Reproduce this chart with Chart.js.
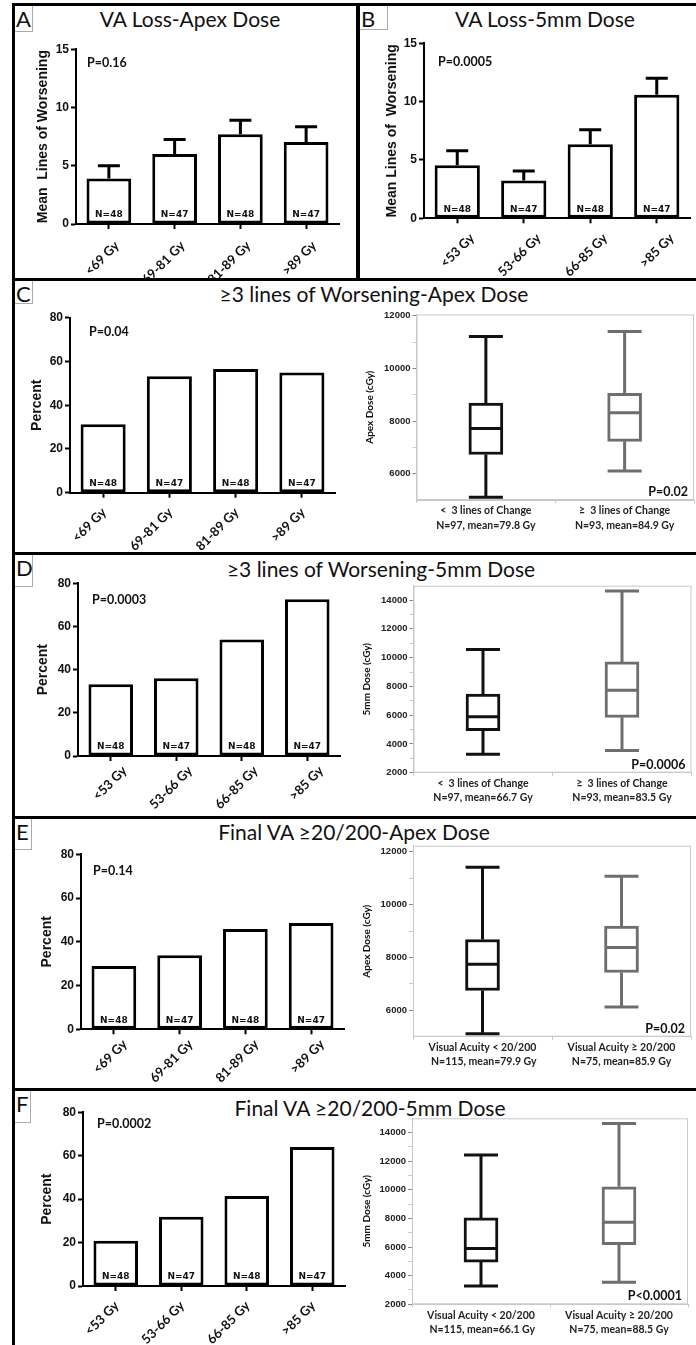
<!DOCTYPE html>
<html>
<head>
<meta charset="utf-8">
<script src="https://cdn.jsdelivr.net/npm/chart.js@4.4.1/dist/chart.umd.min.js"></script>
<style>
  body { margin: 0; background: #fff; }
  #page { position: relative; width: 696px; height: 1345px; overflow: hidden; font-family: Lato, sans-serif; color: #111; }
  .line { position: absolute; background: #000; }
  .title { position: absolute; transform: translate(-50%, -50%); white-space: nowrap; font-size: 21px; line-height: 1; }
  .tag { position: absolute; box-sizing: border-box; border-right: 1px solid #aaa; border-bottom: 1px solid #aaa; font-size: 22px; line-height: 1; padding: 2px 0 0 1px; }
</style>
</head>
<body>
<div id="page"></div>
<script>
// dose groups
const apexGroups = ['<69 Gy', '69-81 Gy', '81-89 Gy', '>89 Gy'];
const mm5Groups = ['<53 Gy', '53-66 Gy', '66-85 Gy', '>85 Gy'];
const groupN = [48, 47, 48, 47];

// mean lines of worsening, and top of the error bar
const lossApexMean = [3.9, 6.0, 7.7, 7.05];
const lossApexErr = [5.0, 7.25, 8.9, 8.35];
const loss5mmMean = [4.55, 3.25, 6.35, 10.6];
const loss5mmErr = [5.8, 4.05, 7.6, 12.0];

// percent of patients
const worseApexPct = [31.3, 53.2, 56.5, 55.0];
const worse5mmPct = [33.2, 36.0, 54.0, 72.6];
const finalApexPct = [28.9, 33.8, 45.8, 48.6];
const final5mmPct = [20.8, 31.9, 41.5, 64.0];

// box plots: min, q1, median, q3, max (cGy)
const worseApexBox = [[5100, 6730, 7720, 8680, 11210], [6100, 7230, 8320, 9050, 11400]];
const worse5mmBox = [[3280, 4920, 5890, 7470, 10570], [3550, 5850, 7740, 9700, 14640]];
const finalApexBox = [[5110, 6750, 7740, 8680, 11410], [6120, 7430, 8380, 9190, 11070]];
const final5mmBox = [[3280, 4950, 5900, 8040, 12430], [3540, 6160, 7730, 10210, 14630]];

// dose axis ticks (labels on the even thousands)
const apexDoseTicks = [6000, 7000, 8000, 9000, 10000, 11000, 12000];
const mm5DoseTicks = [2000, 3000, 4000, 5000, 6000, 7000, 8000, 9000, 10000, 11000, 12000, 13000, 14000];

const worseApexLabels = [['<  3 lines of Change', 'N=97, mean=79.8 Gy'], ['≥  3 lines of Change', 'N=93, mean=84.9 Gy']];
const worse5mmLabels = [['<  3 lines of Change', 'N=97, mean=66.7 Gy'], ['≥  3 lines of Change', 'N=93, mean=83.5 Gy']];
const finalApexLabels = [['Visual Acuity < 20/200', ' N=115, mean=79.9 Gy'], ['Visual Acuity ≥ 20/200', 'N=75, mean=85.9 Gy']];
const final5mmLabels = [['Visual Acuity < 20/200', ' N=115, mean=66.1 Gy'], ['Visual Acuity ≥ 20/200', 'N=75, mean=88.5 Gy']];

const boxColors = ['#111', '#6e6e6e'];

Chart.defaults.font.family = 'Lato';
Chart.defaults.color = '#111';
Chart.defaults.animation = false;

const page = document.getElementById('page');

// frame lines
[[12, 3, 684, 3], [12, 3, 3, 1342], [356, 3, 4, 277],
 [12, 278, 684, 3], [12, 552, 684, 3], [12, 816, 684, 3], [12, 1088, 684, 3]].forEach(r => {
  const d = document.createElement('div');
  d.className = 'line';
  d.style.cssText = `left:${r[0]}px;top:${r[1]}px;width:${r[2]}px;height:${r[3]}px`;
  page.appendChild(d);
});

// panel letters
[['A', 15, 6, 33, 32], ['B', 360, 6, 388, 30], ['C', 15, 281, 33, 304],
 ['D', 15, 555, 33, 587], ['E', 15, 819, 32, 850], ['F', 15, 1091, 31, 1123]].forEach(t => {
  const d = document.createElement('div');
  d.className = 'tag';
  d.textContent = t[0];
  d.style.cssText = `left:${t[1]}px;top:${t[2]}px;width:${t[3] - t[1]}px;height:${t[4] - t[2]}px`;
  page.appendChild(d);
});

// panel titles
[['VA Loss-Apex Dose', 190, 18], ['VA Loss-5mm Dose', 545, 18],
 ['≥3 lines of Worsening-Apex Dose', 374, 293], ['≥3 lines of Worsening-5mm Dose', 381, 568],
 ['Final VA ≥20/200-Apex Dose', 354, 831], ['Final VA ≥20/200-5mm Dose', 370, 1107]].forEach(t => {
  const d = document.createElement('div');
  d.className = 'title';
  d.textContent = t[0];
  d.style.left = t[1] + 'px';
  d.style.top = t[2] + 'px';
  page.appendChild(d);
});

function addCanvas(r) {
  const c = document.createElement('canvas');
  c.width = r[2];
  c.height = r[3];
  c.style.cssText = `position:absolute;left:${r[0]}px;top:${r[1]}px;width:${r[2]}px;height:${r[3]}px`;
  page.appendChild(c);
  return c;
}

// error bars, N labels and P value for the Prism style bars
const prismMarks = (err, p, pAt) => ({
  id: 'prismMarks',
  afterDatasetsDraw(chart) {
    const { ctx, chartArea, scales: { y } } = chart;
    const bars = chart.getDatasetMeta(0).data;
    ctx.save();
    ctx.strokeStyle = '#000';
    ctx.lineWidth = 3;
    if (err) {
      bars.forEach((bar, i) => {
        const top = y.getPixelForValue(err[i]);
        ctx.beginPath();
        ctx.moveTo(bar.x, bar.y);
        ctx.lineTo(bar.x, top);
        ctx.moveTo(bar.x - 11, top);
        ctx.lineTo(bar.x + 11, top);
        ctx.stroke();
      });
    }
    ctx.fillStyle = '#111';
    ctx.textBaseline = 'middle';
    ctx.textAlign = 'center';
    ctx.font = 'bold 9px "DejaVu Sans"';
    bars.forEach((bar, i) => ctx.fillText('N=' + groupN[i], bar.x, chartArea.bottom - 9));
    ctx.textAlign = 'left';
    ctx.font = 'bold 12.5px Lato';
    ctx.fillText(p, pAt[0], pAt[1]);
    ctx.restore();
  }
});

// whiskers, medians, frame and P value for the JMP style boxes
const jmpMarks = (stats, p) => ({
  id: 'jmpMarks',
  beforeDatasetsDraw(chart) {
    const { ctx, chartArea: a } = chart;
    ctx.save();
    ctx.strokeStyle = '#c8c8c8';
    ctx.lineWidth = 1;
    ctx.strokeRect(a.left + 0.5, a.top + 0.5, a.right - a.left - 1, a.bottom - a.top - 1);
    ctx.restore();
  },
  afterDatasetsDraw(chart) {
    const { ctx, chartArea: a, scales: { y } } = chart;
    const boxes = chart.getDatasetMeta(0).data;
    ctx.save();
    ctx.lineWidth = 3;
    boxes.forEach((b, i) => {
      const [lo, q1, med, q3, hi] = stats[i].map(v => y.getPixelForValue(v));
      const h = b.width / 2;
      ctx.strokeStyle = boxColors[i];
      ctx.beginPath();
      ctx.moveTo(b.x, q3); ctx.lineTo(b.x, hi);
      ctx.moveTo(b.x, q1); ctx.lineTo(b.x, lo);
      ctx.moveTo(b.x - h, hi); ctx.lineTo(b.x + h, hi);
      ctx.moveTo(b.x - h, lo); ctx.lineTo(b.x + h, lo);
      ctx.moveTo(b.x - h + 1.5, med); ctx.lineTo(b.x + h - 1.5, med);
      ctx.stroke();
    });
    ctx.fillStyle = '#111';
    ctx.font = 'bold 12.5px Lato';
    ctx.textAlign = 'right';
    ctx.textBaseline = 'middle';
    ctx.fillText(p, a.right - 6, a.bottom - 8);
    ctx.restore();
  }
});

function barChart(o) {
  const [cx, cy, cw, ch] = o.canvas;
  const [al, at, ar, ab] = o.area;
  return new Chart(addCanvas(o.canvas), {
    type: 'bar',
    data: {
      labels: o.labels,
      datasets: [{
        data: o.values,
        backgroundColor: '#fff',
        borderColor: '#000',
        borderWidth: 3,
        borderSkipped: false,
        barPercentage: 0.68,
        categoryPercentage: 1
      }]
    },
    options: {
      responsive: false,
      events: [],
      layout: { padding: { top: at - cy, right: cx + cw - ar, left: 0, bottom: 0 } },
      plugins: { legend: { display: false }, tooltip: { enabled: false } },
      scales: {
        x: {
          grid: { offset: false, drawOnChartArea: false, tickLength: 5, tickWidth: 2, tickColor: '#000' },
          border: { color: '#000', width: 2 },
          ticks: {
            minRotation: 45, maxRotation: 45, autoSkip: false, color: '#111',
            labelOffset: o.lbl[0], padding: o.lbl[1],
            font: { weight: 'bold', size: 13 }
          },
          afterFit: s => { s.height = cy + ch - ab; }
        },
        y: {
          min: 0,
          max: o.max,
          ticks: { stepSize: o.step, color: '#111', padding: 2, font: { family: 'Liberation Sans', weight: 'bold', size: 12 } },
          grid: { drawOnChartArea: false, tickLength: 5, tickWidth: 2, tickColor: '#000' },
          border: { color: '#000', width: 2 },
          title: {
            display: true,
            text: o.yTitle,
            color: '#111',
            font: { family: 'Liberation Sans', weight: 'bold', size: 14, lineHeight: 1.2 },
            padding: { top: o.titleX - cx - 8.4, bottom: 0 }
          },
          afterFit: s => { s.width = al - cx; }
        }
      }
    },
    plugins: [prismMarks(o.err, o.p, [o.pAt[0] - cx, o.pAt[1] - cy])]
  });
}

function boxChart(o) {
  const [cx, cy, cw, ch] = o.canvas;
  const [al, at, ar, ab] = o.area;
  return new Chart(addCanvas(o.canvas), {
    type: 'bar',
    data: {
      labels: o.labels,
      datasets: [{
        data: o.stats.map(s => [s[1], s[3]]),
        backgroundColor: '#fff',
        borderColor: boxColors,
        borderWidth: 3,
        borderSkipped: false,
        barThickness: 34
      }]
    },
    options: {
      responsive: false,
      events: [],
      layout: { padding: { top: at - cy, right: cx + cw - ar, left: 0, bottom: 0 } },
      plugins: { legend: { display: false }, tooltip: { enabled: false } },
      scales: {
        x: {
          grid: { offset: true, drawOnChartArea: false, tickLength: 3, color: '#c4c4c4' },
          border: { color: '#c8c8c8' },
          ticks: { maxRotation: 0, autoSkip: false, color: '#222', padding: 1, font: { weight: 'bold', size: 10.5, lineHeight: 1.35 } },
          afterFit: s => { s.height = cy + ch - ab; }
        },
        y: {
          min: o.min,
          max: o.max,
          afterBuildTicks: s => { s.ticks = o.ticks.map(v => ({ value: v })); },
          ticks: {
            autoSkip: false,
            color: '#222',
            padding: 2,
            font: { family: 'Liberation Sans', weight: 'bold', size: 9.5 },
            callback: v => (v % 2000 === 0 ? String(v) : '')
          },
          grid: {
            drawOnChartArea: false,
            tickLength: 4,
            color: '#c8c8c8',
            tickColor: c => (c.tick && c.tick.value % 2000 === 0 ? '#888' : '#ccc')
          },
          border: { color: '#c8c8c8' },
          title: {
            display: true,
            text: o.yTitle,
            color: '#111',
            font: { weight: 'bold', size: 10, lineHeight: 1.2 },
            padding: { top: o.titleX - cx - 6, bottom: 0 }
          },
          afterFit: s => { s.width = al - cx; }
        }
      }
    },
    plugins: [jmpMarks(o.stats, o.p)]
  });
}

// A
barChart({
  canvas: [16, 36, 334, 242], area: [76, 49.3, 339, 224],
  labels: apexGroups, values: lossApexMean, err: lossApexErr, lbl: [8, 9],
  max: 15, step: 5, yTitle: 'Mean  Lines of Worsening', titleX: 43,
  p: 'P=0.16', pAt: [87, 63]
});
// B
barChart({
  canvas: [364, 30, 332, 248], area: [424, 43.3, 690, 218.3],
  labels: mm5Groups, values: loss5mmMean, err: loss5mmErr, lbl: [15, 7],
  max: 15, step: 5, yTitle: 'Mean Lines of  Worsening', titleX: 392,
  p: 'P=0.0005', pAt: [438, 62]
});
// C
barChart({
  canvas: [16, 305, 334, 247], area: [70, 317.7, 335, 492.7],
  labels: apexGroups, values: worseApexPct, lbl: [1, 7],
  max: 80, step: 20, yTitle: 'Percent', titleX: 37,
  p: 'P=0.04', pAt: [89, 332]
});
boxChart({
  canvas: [362, 300, 334, 252], area: [416.5, 314.5, 694, 500],
  labels: worseApexLabels, stats: worseApexBox, min: 5000, max: 12050, ticks: apexDoseTicks,
  yTitle: 'Apex Dose (cGy)', titleX: 370, p: 'P=0.02'
});
// D
barChart({
  canvas: [16, 570, 334, 246], area: [78, 583.3, 340, 756],
  labels: mm5Groups, values: worse5mmPct, lbl: [14, 2],
  max: 80, step: 20, yTitle: 'Percent', titleX: 43,
  p: 'P=0.0003', pAt: [92, 600]
});
boxChart({
  canvas: [362, 574, 334, 242], area: [413.5, 585.7, 691.5, 772.7],
  labels: worse5mmLabels, stats: worse5mmBox, min: 2000, max: 15000, ticks: mm5DoseTicks,
  yTitle: '5mm Dose (cGy)', titleX: 367, p: 'P=0.0006'
});
// E
barChart({
  canvas: [16, 840, 334, 248], area: [81, 854.3, 344, 1029.3],
  labels: apexGroups, values: finalApexPct, lbl: [11, 2],
  max: 80, step: 20, yTitle: 'Percent', titleX: 47,
  p: 'P=0.14', pAt: [93, 871]
});
boxChart({
  canvas: [362, 838, 334, 250], area: [413, 845, 691, 1036.7],
  labels: finalApexLabels, stats: finalApexBox, min: 5000, max: 12230, ticks: apexDoseTicks,
  yTitle: 'Apex Dose (cGy)', titleX: 367, p: 'P=0.02'
});
// F
barChart({
  canvas: [16, 1098, 334, 247], area: [83, 1112.3, 345, 1286],
  labels: mm5Groups, values: final5mmPct, lbl: [1, 7],
  max: 80, step: 20, yTitle: 'Percent', titleX: 47,
  p: 'P=0.0002', pAt: [97, 1124]
});
boxChart({
  canvas: [362, 1110, 334, 235], area: [412, 1118.3, 688, 1304.3],
  labels: final5mmLabels, stats: final5mmBox, min: 2000, max: 15000, ticks: mm5DoseTicks,
  yTitle: '5mm Dose (cGy)', titleX: 367, p: 'P<0.0001'
});
</script>
</body>
</html>
